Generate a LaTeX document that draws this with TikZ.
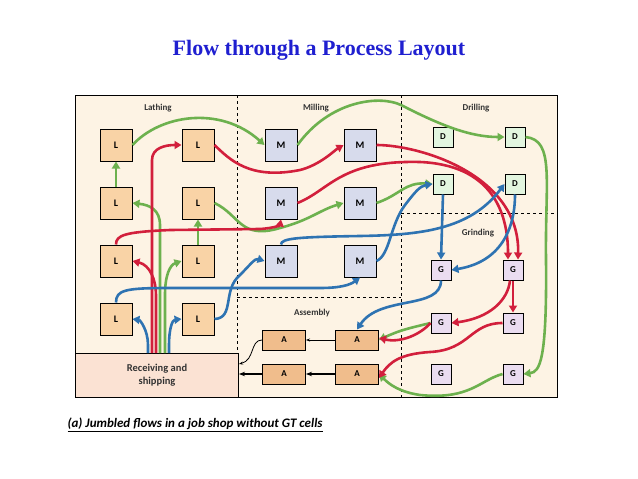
\documentclass[tikz,border=0pt]{standalone}
\usepackage{fontspec}
\setmainfont{Carlito}
\newfontfamily\serifr{Liberation Serif}
\usetikzlibrary{arrows.meta}
\definecolor{bg}{HTML}{FDF3E4}
\definecolor{lf}{HTML}{F9D3A6}
\definecolor{mf}{HTML}{D7DBEC}
\definecolor{df}{HTML}{E2F5DF}
\definecolor{gf}{HTML}{EADCF0}
\definecolor{af}{HTML}{F0BD8C}
\definecolor{rf}{HTML}{FBE2D3}
\definecolor{rd}{HTML}{D21F3C}
\definecolor{gr}{HTML}{6DB14E}
\definecolor{bl}{HTML}{2E73B2}
\definecolor{tb}{HTML}{1F1FD0}
\begin{document}
\begin{tikzpicture}[x=1pt,y=-1pt,
 box/.style={draw,line width=1pt,minimum width=32pt,minimum height=32pt,inner sep=0pt,font=\fontsize{10}{12}\selectfont\bfseries},
 lb/.style={box,fill=lf}, mb/.style={box,fill=mf},
 db/.style={box,fill=df,minimum width=20pt,minimum height=20pt,font=\fontsize{9}{11}\selectfont\bfseries},
 gb/.style={db,fill=gf},
 ab/.style={box,fill=af,minimum width=43pt,minimum height=20pt,font=\fontsize{9}{11}\selectfont\bfseries},
 fl/.style={line width=2.6pt,-{Triangle[length=7pt,width=8pt]}},
 R/.style={fl,rd}, G/.style={fl,gr}, B/.style={fl,bl},
 lab/.style={font=\fontsize{9}{11}\selectfont\bfseries,text=black!80}]
\useasboundingbox (0,0) rectangle (638,479);
\node[font=\serifr\bfseries\fontsize{22}{26}\selectfont,text=tb] (title) at (319,50) {Flow through a Process Layout};
\draw[fill=bg,line width=1pt] (75,95) rectangle (557,397);
\draw[dashed,line width=1pt] (237,95) -- (237,397) (401,95) -- (401,397) (237,297) -- (401,297) (401,213) -- (557,213);
\node[draw,fill=rf,line width=1pt,minimum width=163pt,minimum height=44pt,anchor=north west,font=\fontsize{10.5}{13}\selectfont\bfseries,align=center,text=black!80] (rs) at (75,353) {Receiving and\\shipping};
\node[lab] (t1) at (158,108) {Lathing};
\node[lab] (t2) at (316,108) {Milling};
\node[lab] (t3) at (476,108) {Drilling};
\node[lab] (t4) at (478,233) {Grinding};
\node[lab] (t5) at (312,313) {Assembly};
\node[lb] (L1) at (116,145) {L}; \node[lb] (L2) at (198,145) {L};
\node[lb] (L3) at (116,203) {L}; \node[lb] (L4) at (198,203) {L};
\node[lb] (L5) at (116,261) {L}; \node[lb] (L6) at (198,261) {L};
\node[lb] (L7) at (116,319) {L}; \node[lb] (L8) at (198,319) {L};
\node[mb] (M1) at (281,145) {M}; \node[mb] (M2) at (360,145) {M};
\node[mb] (M3) at (281,203) {M}; \node[mb] (M4) at (360,203) {M};
\node[mb] (M5) at (281,261) {M}; \node[mb] (M6) at (360,261) {M};
\node[db] (D1) at (443,137) {D}; \node[db] (D2) at (515,137) {D};
\node[db] (D3) at (443,184) {D}; \node[db] (D4) at (515,184) {D};
\node[gb] (G1) at (441,270) {G}; \node[gb] (G2) at (513,270) {G};
\node[gb] (G3) at (441,323) {G}; \node[gb] (G4) at (513,323) {G};
\node[gb] (G5) at (441,374) {G}; \node[gb] (G6) at (513,374) {G};
\node[ab] (A1) at (284,340) {A}; \node[ab] (A2) at (357,340) {A};
\node[ab] (A3) at (284,374) {A}; \node[ab] (A4) at (357,374) {A};
\coordinate (r1) at (148,353); \coordinate (r2) at (152,353); \coordinate (r3) at (156,353);
\coordinate (r4) at (160,353); \coordinate (r5) at (165,353); \coordinate (r6) at (169,353);
% green
\draw[G] (L3.north) -- (L1.south);
\draw[G] (L1.east) .. controls (160,115) and (220,105) .. (M1.west);
\draw[G] (M1.east) .. controls (330,100) and (380,95) .. (401,105) .. controls (440,125) and (470,137) .. (D2.west);
\draw[G] (D2.east) .. controls (555,140) and (545,180) .. (546,260) .. controls (547,360) and (540,372) .. (G6.east);
\draw[G] (G6.west) .. controls (480,380) and (470,400) .. (420,395) .. controls (400,392) and (390,385) .. (A4.east);
\draw[G] (r4) -- (160,225) .. controls (160,210) and (150,205) .. (L3.east);
\draw[G] (r5) -- (165,295) .. controls (165,275) and (170,265) .. (L6.west);
\draw[G] (L6.north) -- (L4.south);
\draw[G] (L4.east) .. controls (240,215) and (240,240) .. (280,228) .. controls (310,220) and (320,210) .. (M4.west);
\draw[G] (M4.east) .. controls (400,195) and (405,182) .. (D3.west);
\draw[G] (G3.west) .. controls (410,328) and (400,330) .. (A2.east);
% red
\draw[R] (r2) -- (152,160) .. controls (152,148) and (165,145) .. (L2.west);
\draw[R] (r3) -- (156,295) .. controls (156,280) and (150,265) .. (L5.east);
\draw[R] (L5.north) .. controls (116,235) and (125,232) .. (170,230) -- (260,229) .. controls (275,228) and (280,225) .. (M3.south);
\draw[R] (L2.east) .. controls (230,160) and (250,180) .. (300,170) .. controls (320,165) and (335,150) .. (M2.west);
\draw[R] (M3.east) .. controls (330,190) and (340,160) .. (420,162) .. controls (490,165) and (508,210) .. ([xshift=-5pt]G2.north);
\draw[R] (M2.east) .. controls (420,145) and (520,175) .. ([xshift=5pt]G2.north);
\draw[R] (G2.south) -- (G4.north);
\draw[R] ([xshift=-3pt]G2.south) .. controls (508,300) and (490,318) .. (G3.east);
\draw[R] (G3.west) .. controls (420,335) and (400,343) .. ([yshift=2pt]A2.east);
\draw[R] (G4.west) .. controls (470,323) and (470,350) .. (430,352) .. controls (400,354) and (390,362) .. ([yshift=-4pt]A4.east);
% blue
\draw[B] (r1) -- (148,345) .. controls (148,330) and (140,320) .. (L7.east);
\draw[B] (r6) -- (169,345) .. controls (169,330) and (172,320) .. (L8.west);
\draw[B] (L7.north) .. controls (116,290) and (125,288) .. (170,288) -- (320,288) .. controls (340,288) and (350,285) .. (M6.south);
\draw[B] (L8.east) .. controls (235,318) and (222,290) .. (240,275) .. controls (250,265) and (255,258) .. (M5.west);
\draw[B] (M5.north) .. controls (281,238) and (300,237) .. (360,236) .. controls (420,235) and (470,230) .. (D4.west);
\draw[B] (M6.east) .. controls (390,255) and (390,225) .. (405,205) .. controls (415,192) and (420,186) .. (D3.west);
\draw[B] (D3.south) -- (G1.north);
\draw[B] (D4.south) .. controls (515,230) and (500,262) .. (G1.east);
\draw[B] (G1.south) .. controls (441,310) and (380,295) .. (A2.north);
% black
\draw[line width=0.8pt,-{Stealth[length=4pt]}] (A2.west) -- (A1.east);
\draw[line width=0.8pt,-{Stealth[length=4pt]}] (A1.west) .. controls (250,340) and (255,360) .. (239,364);
\draw[line width=1.8pt,-{Stealth[length=6pt]}] (A4.west) -- (A3.east);
\draw[line width=1.8pt,-{Stealth[length=6pt]}] (A3.west) -- (rs.east |- A3.west);
\node[anchor=west,font=\fontsize{13}{15}\selectfont\bfseries\itshape] (cap) at (64,425) {\underline{(a) Jumbled flows in a job shop without GT cells}};
\end{tikzpicture}
\end{document}
